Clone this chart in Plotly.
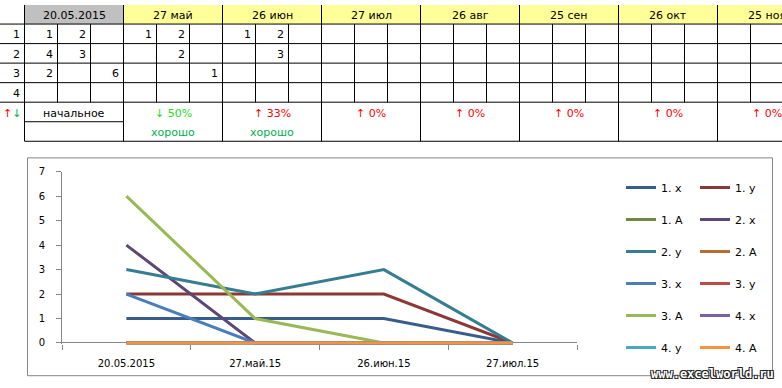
import plotly.graph_objects as go

# ---------------- data ----------------
HEADER_DATES = ["20.05.2015", "27 май", "26 июн", "27 июл", "26 авг", "25 сен", "26 окт", "25 ноя"]
ROW_LABELS = ["1", "2", "3", "4"]
FIELDS = ["x", "y", "A"]
# values per table row, per date block as (x, y, A); None = empty cell
ROW1 = [(1, 2, None), (1, 2, None), (1, 2, None), (None, None, None)]
ROW2 = [(4, 3, None), (None, 2, None), (None, 3, None), (None, None, None)]
ROW3 = [(2, None, 6), (None, None, 1), (None, None, None), (None, None, None)]
ROW4 = [(None, None, None), (None, None, None), (None, None, None), (None, None, None)]
ROWS = [ROW1, ROW2, ROW3, ROW4]
STATUS_TEXT = ["начальное", "↓ 50%", "↑ 33%", "↑ 0%", "↑ 0%", "↑ 0%", "↑ 0%", "↑ 0%"]
RATING_TEXT = ["", "хорошо", "хорошо", "", "", "", "", ""]
CHART_CATEGORIES = ["20.05.2015", "27.май.15", "26.июн.15", "27.июл.15"]
Y_TICKS = [0, 1, 2, 3, 4, 5, 6, 7]

SERIES_COLORS = ["#385D8A", "#8C3836", "#71893F", "#5C4776", "#357D91", "#B66D31",
                 "#4A7EBB", "#BE4B48", "#98B954", "#7D60A0", "#46AAC5", "#F69240"]

# ---------------- layout constants ----------------
W, H = 782, 388
FONT = "DejaVu Sans"
COL0_R = 24.5
SUB_W = 33
BLOCK_W = 3 * SUB_W
HDR_B = 19.5
ROW_H = 20
GRAY_AX = "#868686"
RED = "#FF0000"
GREEN_HI = "#22DD22"
GREEN = "#00B050"

fig = go.Figure()

# ---------------- chart ----------------
k = 0
for r, row in enumerate(ROWS):
    for f, field in enumerate(FIELDS):
        vals = [(row[d][f] if row[d][f] is not None else 0) for d in range(len(CHART_CATEGORIES))]
        fig.add_trace(go.Scatter(
            x=CHART_CATEGORIES, y=vals, mode="lines", name=f"{r + 1}. {field}",
            line=dict(color=SERIES_COLORS[k], width=3),
            legend="legend" if k % 2 == 0 else "legend2",
            legendgroup=f"g{k}", hoverinfo="skip",
        ))
        k += 1

# invisible trace to create the table subplot
fig.add_trace(go.Scatter(x=[], y=[], xaxis="x2", yaxis="y2", showlegend=False, hoverinfo="skip"))

shapes = []
annotations = []

def hline(y, x0, x1):
    shapes.append(dict(type="line", xref="x2", yref="y2", x0=x0, x1=x1, y0=y, y1=y,
                       line=dict(color="black", width=1)))

def vline(x, y0, y1):
    shapes.append(dict(type="line", xref="x2", yref="y2", x0=x, x1=x, y0=y0, y1=y1,
                       line=dict(color="black", width=1)))

def txt(x, y, s, color="black", anchor="center", size=11):
    annotations.append(dict(xref="x2", yref="y2", x=x, y=y, text=s, showarrow=False,
                            xanchor=anchor, yanchor="middle",
                            font=dict(family=FONT, size=size, color=color)))

n_blocks = len(HEADER_DATES)
# header fills
for b in range(n_blocks):
    x0 = COL0_R + b * BLOCK_W
    shapes.append(dict(type="rect", xref="x2", yref="y2", x0=x0, x1=min(x0 + BLOCK_W, W + 5),
                       y0=-1, y1=HDR_B, line=dict(width=0),
                       fillcolor="#C0C0C0" if b == 0 else "#FFFF99", layer="below"))
TBL_B = HDR_B + 6 * ROW_H
# horizontal lines
for i in range(5):
    hline(HDR_B + i * ROW_H, 0, W + 5)
hline(HDR_B + 5 * ROW_H, COL0_R, COL0_R + BLOCK_W)
hline(TBL_B, COL0_R, W + 5)
# vertical lines
vline(COL0_R, -1, TBL_B)
for b in range(n_blocks):
    x0 = COL0_R + b * BLOCK_W
    vline(x0 + BLOCK_W, -1, TBL_B)
    vline(x0 + SUB_W, HDR_B, HDR_B + 4 * ROW_H)
    vline(x0 + 2 * SUB_W, HDR_B, HDR_B + 4 * ROW_H)

# header text
for b, d in enumerate(HEADER_DATES):
    txt(COL0_R + b * BLOCK_W + BLOCK_W / 2, 10.5, d)
# row labels and values
for r, lab in enumerate(ROW_LABELS):
    yc = HDR_B + r * ROW_H + ROW_H / 2 + 1
    txt(COL0_R - 2.5, yc, lab, anchor="right")
    for d, cells in enumerate(ROWS[r]):
        for f, v in enumerate(cells):
            if v is not None:
                xr = COL0_R + d * BLOCK_W + (f + 1) * SUB_W - 2.5
                txt(xr, yc, str(v), anchor="right")
# status / rating rows
y5 = HDR_B + 4 * ROW_H + ROW_H / 2 + 1.5
y6 = HDR_B + 5 * ROW_H + ROW_H / 2 + 1.5
txt(COL0_R / 2, y5, f'<span style="color:{RED}">↑</span><span style="color:{GREEN}">↓</span>')
for b, s in enumerate(STATUS_TEXT):
    xc = COL0_R + b * BLOCK_W + BLOCK_W / 2
    if s.startswith("↓"):
        col = GREEN_HI
    elif s.startswith("↑"):
        col = RED
    else:
        col = "black"
    txt(xc, y5, s, color=col)
    if RATING_TEXT[b]:
        txt(xc, y6, RATING_TEXT[b], color=GREEN)

# chart border
shapes.append(dict(type="rect", xref="paper", yref="paper",
                   x0=27.5 / W, x1=772.5 / W, y0=1 - 379.5 / H, y1=1 - 156.5 / H,
                   line=dict(color=GRAY_AX, width=1)))

# watermark
annotations.append(dict(xref="paper", yref="paper", x=776 / W, y=1 - 378 / H,
                        xanchor="right", yanchor="middle", showarrow=False,
                        text="www.excelworld.ru",
                        font=dict(family="DejaVu Sans Mono", size=12, color="white", weight="bold",
                                  shadow="1px 1px 0 #222, -1px -1px 0 #222, 1px -1px 0 #222, -1px 1px 0 #222")))

y_bot_px, y_top_px = 347.5, 170.7
fig.update_layout(
    width=W, height=H, margin=dict(l=0, r=0, t=0, b=0),
    paper_bgcolor="white", plot_bgcolor="rgba(0,0,0,0)",
    font=dict(family=FONT, size=10, color="black"),
    xaxis=dict(domain=[62 / W, 577 / W], type="category", range=[-0.5, 3.5],
               tickson="boundaries", ticks="outside", ticklen=5, tickcolor=GRAY_AX,
               showline=False, showgrid=False, zeroline=False, ticklabelstandoff=12,
               tickfont=dict(family=FONT, size=10, color="black"), fixedrange=True),
    yaxis=dict(domain=[1 - y_bot_px / H, 1 - y_top_px / H], range=[-0.06, 7],
               tickvals=Y_TICKS, ticks="outside", ticklen=5, tickcolor=GRAY_AX,
               showline=True, linecolor=GRAY_AX, linewidth=1, showgrid=False,
               zeroline=True, zerolinecolor=GRAY_AX, zerolinewidth=1, ticklabelstandoff=9,
               tickfont=dict(family=FONT, size=10, color="black"), fixedrange=True),
    xaxis2=dict(domain=[0, 1], range=[0, W], visible=False, anchor="y2", fixedrange=True),
    yaxis2=dict(domain=[0, 1], range=[H, 0], visible=False, anchor="x2", fixedrange=True),
    legend=dict(x=621 / W, y=1 - 172 / H, xanchor="left", yanchor="top",
                bgcolor="rgba(0,0,0,0)", tracegroupgap=13,
                font=dict(family=FONT, size=11, color="black")),
    legend2=dict(x=695 / W, y=1 - 172 / H, xanchor="left", yanchor="top",
                 bgcolor="rgba(0,0,0,0)", tracegroupgap=13,
                 font=dict(family=FONT, size=11, color="black")),
    shapes=shapes, annotations=annotations, showlegend=True,
)

fig.write_html("out.html", config={"displayModeBar": False},
               post_script="document.body.style.margin='0px';document.body.style.overflow='hidden';")
